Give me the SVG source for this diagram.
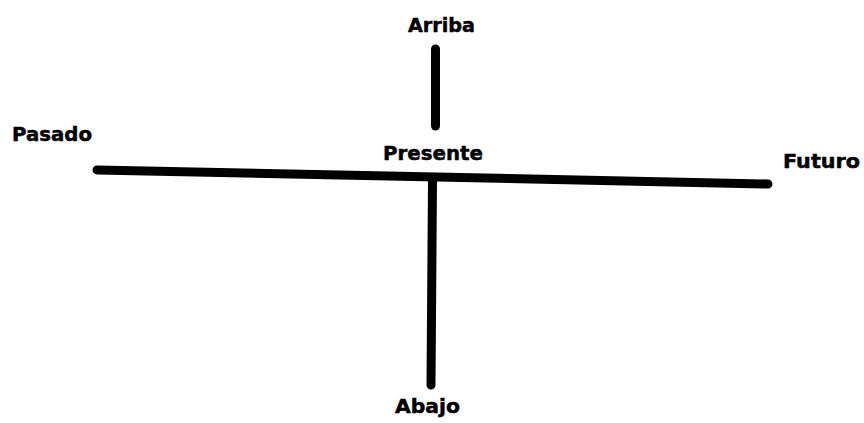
<svg xmlns="http://www.w3.org/2000/svg" width="864" height="423" viewBox="0 0 864 423">
<style>
.lbl{font-family:"DejaVu Sans","Liberation Sans",sans-serif;font-weight:bold;font-size:20px;fill:#000;stroke:#000;stroke-width:0.5}
.ln{stroke:#000;stroke-width:9;stroke-linecap:round;fill:none}
</style>
<rect width="864" height="423" fill="#fff"/>
<g id="connectors">
<line class="ln" x1="435.5" y1="49" x2="435.5" y2="126"/>
<line class="ln" x1="97" y1="170" x2="768" y2="184"/>
<line class="ln" stroke-width="10" x1="432.5" y1="180" x2="431" y2="385"/>
</g>
<g id="arriba"><text class="lbl" x="408" y="32" textLength="67" lengthAdjust="spacingAndGlyphs">Arriba</text></g>
<g id="pasado"><text class="lbl" x="12" y="141" textLength="80" lengthAdjust="spacingAndGlyphs">Pasado</text></g>
<g id="presente"><text class="lbl" x="383" y="160" textLength="100" lengthAdjust="spacingAndGlyphs">Presente</text></g>
<g id="futuro"><text class="lbl" x="783" y="168" textLength="77" lengthAdjust="spacingAndGlyphs">Futuro</text></g>
<g id="abajo"><text class="lbl" x="395" y="413" textLength="65" lengthAdjust="spacingAndGlyphs">Abajo</text></g>
</svg>
